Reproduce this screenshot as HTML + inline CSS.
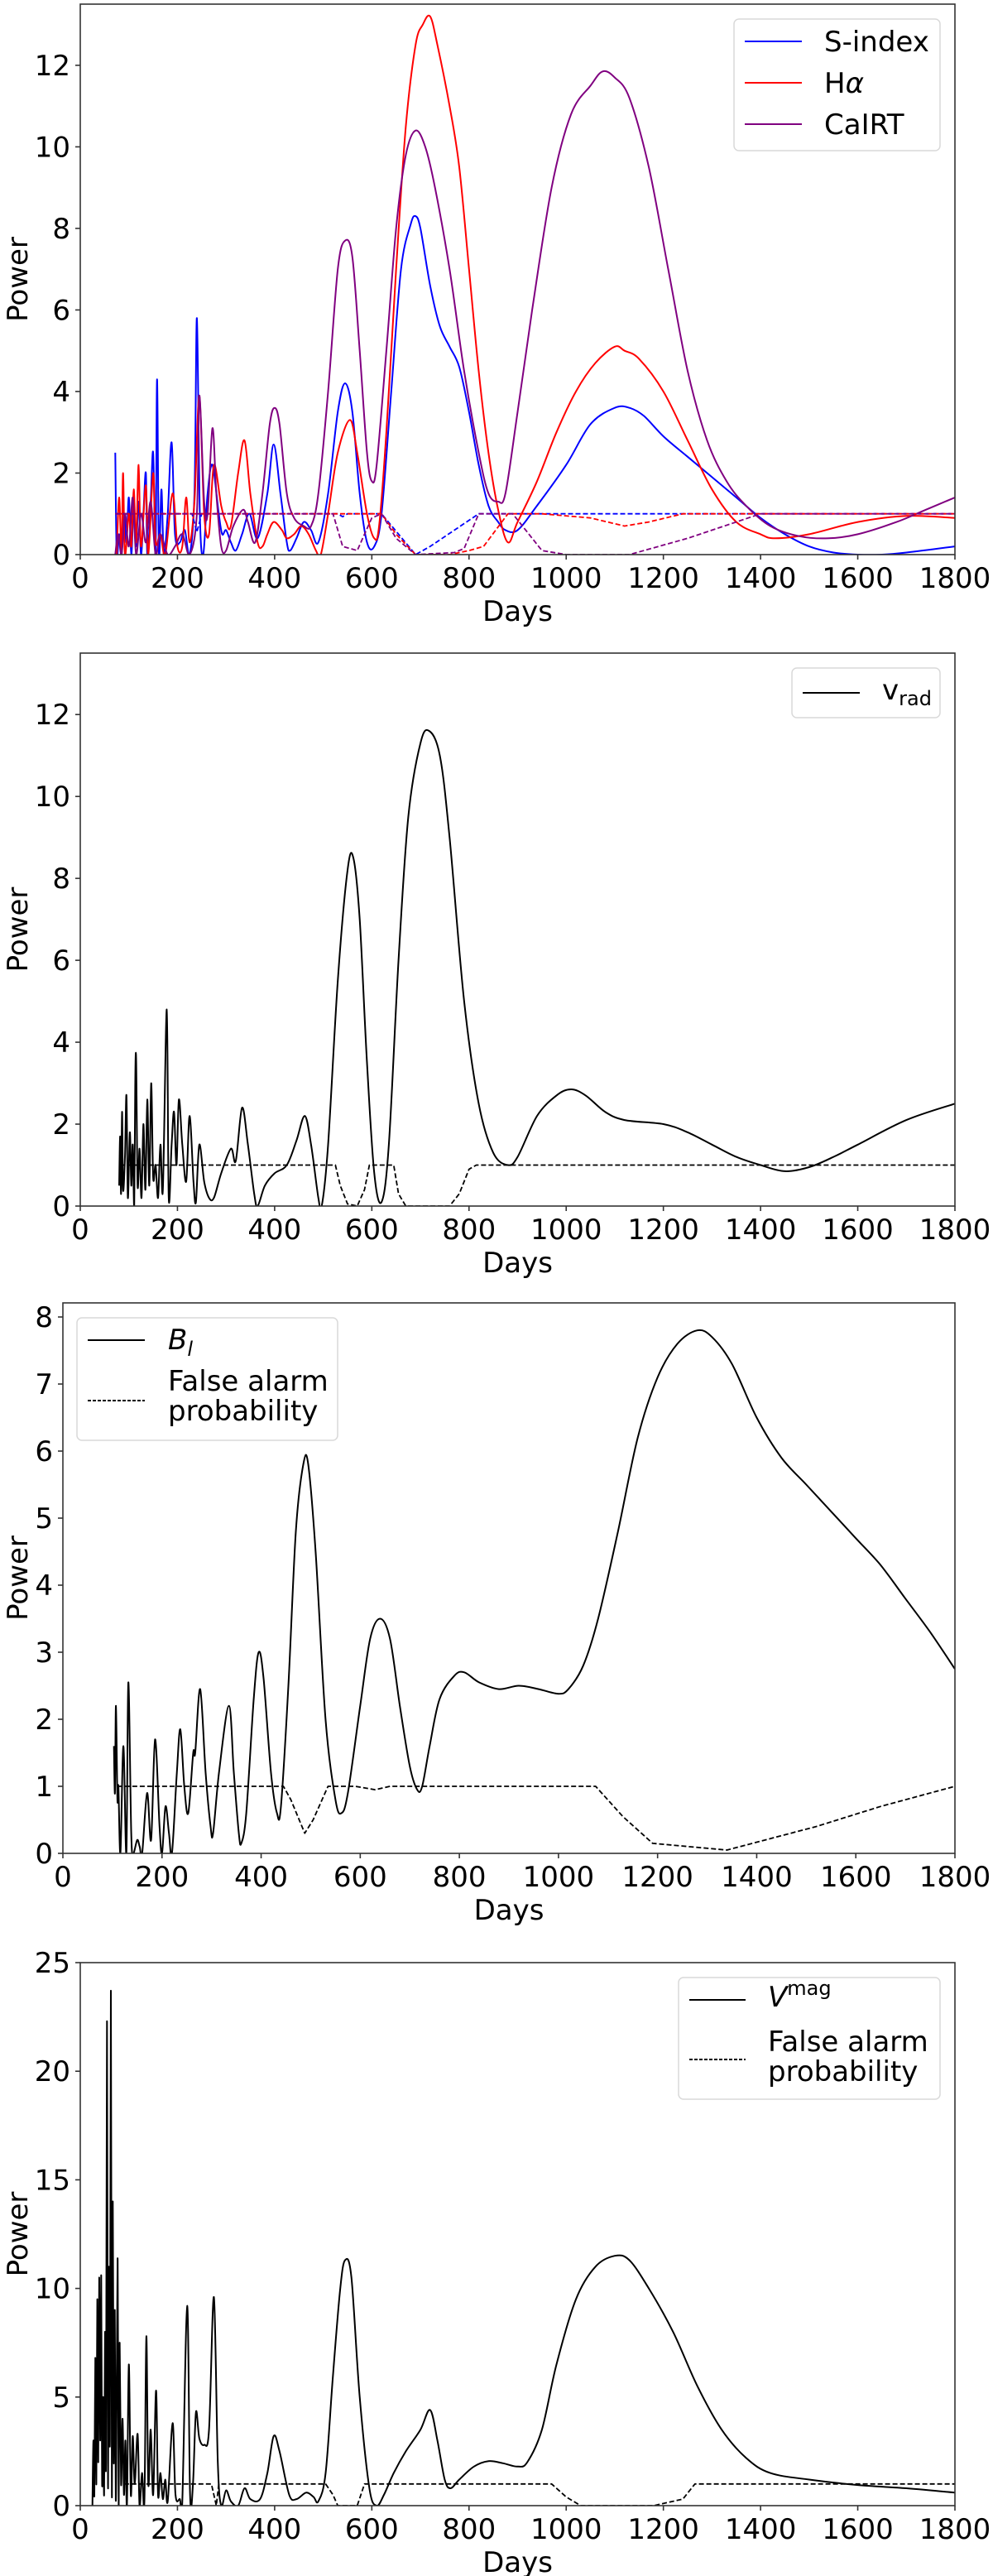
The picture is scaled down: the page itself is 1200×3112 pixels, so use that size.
<!DOCTYPE html>
<html><head><meta charset="utf-8">
<style>
html,body{margin:0;padding:0;background:#fff;}
svg{display:block;font-family:"DejaVu Sans","Liberation Sans",sans-serif;}
</style></head>
<body>
<svg id="fig" width="1200" height="3112" viewBox="0 0 1200 3112" xmlns="http://www.w3.org/2000/svg"></svg>
<script>
// ---------- Panel 1 data (activity indicators) ----------
const sindexDays = [72,75,80,85,90,95,100,105,110,115,120,125,130,135,138,145,150,155,158,162,167,172,180,188,195,205,215,225,235,240,246,253,262,272,285,292,300,310,320,333,348,365,385,398,412,425,432,445,460,475,490,510,530,545,560,575,590,605,620,640,660,680,690,700,720,740,760,780,800,820,840,860,875,900,940,1000,1050,1100,1130,1160,1200,1250,1300,1350,1400,1450,1500,1550,1600,1650,1700,1800];
const sindexPower = [2.5,0,0.5,0,1,0.3,1.4,0,1.2,0.2,1.3,0,1,2,0,1.3,2.5,0,4.3,0,1.6,0,1,2.75,0.5,0.3,0.6,0,1.5,5.8,1,0,1.5,2.2,1,0.5,0.6,0.3,0.1,0.5,1,0.4,1.5,2.7,1.5,0.3,0.1,0.4,0.8,0.6,0.3,1.5,3.5,4.2,3.5,1.5,0.3,0.2,1,4,7,8.1,8.3,8,6.6,5.6,5.1,4.6,3.5,2.2,1.2,0.8,0.6,0.6,1.2,2.2,3.2,3.6,3.6,3.4,2.9,2.4,1.9,1.4,0.9,0.5,0.2,0.05,0,0,0.05,0.2];
const sindexFapDays = [72,230,240,250,530,540,550,620,690,720,770,820,1800];
const sindexFap = [1,1,0.55,1,1,0.93,1,1,0,0.2,0.6,1,1];

const halphaDays = [75,80,85,88,92,100,105,110,115,120,125,135,140,150,155,165,175,190,200,210,218,225,235,245,255,265,275,290,300,310,325,338,350,365,375,385,398,415,425,440,455,470,485,495,510,530,555,570,590,605,615,630,650,670,690,705,720,735,760,780,800,820,840,860,880,900,940,980,1020,1060,1100,1120,1150,1200,1250,1300,1350,1400,1430,1500,1600,1700,1800];
const halphaPower = [0,1.4,0,2,0,1,0.2,1.6,0.3,2.2,0.2,1.7,0,2,0.3,0.5,0,1.5,0.2,0.2,1.4,0.3,1.3,3.9,1,0.5,2.2,1.2,0.8,0.7,2,2.8,1.5,0.3,0.2,0.5,0.8,0.6,0.4,0.5,0.7,0.5,0.1,0,1,2.5,3.3,2.5,1,0.4,0.7,3,7,10.5,12.5,13,13.2,12.5,11,9.5,7,4.5,2.5,1.1,0.3,0.8,1.8,3,4,4.7,5.1,5,4.8,4,2.8,1.6,0.8,0.5,0.4,0.5,0.8,0.95,0.9];
const halphaFapDays = [75,520,550,620,650,690,760,800,830,880,950,1050,1120,1170,1240,1800];
const halphaFap = [1,1,1,1,0.5,0,0,0.1,0.2,1,1,0.9,0.7,0.8,1,1];

const cairtDays = [72,78,85,92,100,108,115,125,135,145,155,165,180,195,210,225,240,245,255,262,272,280,290,300,315,335,345,360,375,390,400,410,425,440,460,475,490,510,530,545,560,575,590,600,610,630,650,670,690,710,730,760,790,820,840,860,875,900,930,970,1010,1050,1075,1100,1130,1170,1210,1250,1290,1330,1370,1420,1480,1540,1600,1680,1740,1800];
const cairtPower = [0,0.5,0,1,0.2,1.4,0,1,0.3,1.3,0,0.5,0,0.2,0.5,0,1,3.9,1.3,1,3.1,1.5,0.2,0.1,0.7,1.1,0.8,0.3,1.5,3.2,3.6,3.2,1.5,0.9,0.7,0.7,1.5,4,7,7.7,7.3,5,2.5,1.8,2.2,5,8,9.8,10.4,10,9,7,4.5,2.5,1.5,1.3,1.5,3.5,6,9,10.8,11.5,11.85,11.7,11.2,9.5,7,4.5,2.8,1.8,1.2,0.7,0.45,0.4,0.5,0.8,1.1,1.4];
const cairtFapDays = [72,520,540,570,600,620,650,690,770,790,820,890,950,1000,1130,1250,1350,1400,1800];
const cairtFap = [1,1,0.2,0.1,0.9,1,0.4,0,0.05,0.15,1,1,0.1,0,0,0.4,0.8,1,1];

// ---------- Panel 2 data (radial velocity) ----------
const vradDays = [80,82,84,86,88,92,95,98,102,105,108,111,113,115,118,122,126,130,134,138,142,146,150,155,160,165,170,178,182,188,193,198,203,210,218,225,233,238,245,255,265,275,290,310,320,333,345,358,365,380,400,425,445,462,475,490,497,510,530,550,562,575,590,605,620,635,655,675,700,718,740,760,790,820,850,880,900,940,980,1010,1040,1080,1120,1200,1250,1300,1350,1400,1450,1500,1550,1600,1700,1800];
const vradPower = [0.5,1.7,0.3,2.3,0.4,1.2,2.7,0.2,1.8,0.5,1.5,0,2.9,3.6,0.5,1.4,0.2,2,0.4,2.6,0.5,3,0.7,1,0.2,1.5,0.4,4.8,0.2,1.5,2.3,1,2.6,1.5,0.6,2.2,0.6,0.1,1.5,0.6,0.2,0.2,0.8,1.4,1.1,2.4,1.5,0.3,0,0.5,0.8,1.0,1.6,2.2,1.5,0.2,0,1.5,5.5,8.2,8.5,7,3.5,0.8,0.1,1.5,6,9.5,11.3,11.6,11,9,5,2.5,1.3,1.0,1.2,2.2,2.7,2.85,2.7,2.3,2.1,2,1.8,1.5,1.2,1.0,0.85,0.95,1.2,1.5,2.1,2.5];
const vradFapDays = [80,525,535,550,570,585,595,645,655,670,760,780,800,815,1800];
const vradFap = [1,1,0.5,0.05,0,0.4,1,1,0.3,0,0,0.3,0.9,1,1];

// ---------- Panel 3 data (longitudinal field) ----------
const blDays = [103,105,107,110,112,116,122,128,132,138,142,150,155,160,170,178,186,195,200,207,214,220,230,237,245,253,263,267,277,288,298,303,315,335,345,355,360,370,385,395,405,420,432,440,455,470,485,495,510,530,550,562,575,600,620,640,660,680,700,715,725,740,760,790,810,840,880,920,960,1000,1020,1050,1080,1120,1160,1200,1240,1280,1310,1350,1400,1450,1500,1550,1600,1650,1700,1750,1800];
const blPower = [1.6,0.9,2.2,0.8,1,0,1.6,0,2.55,0.3,0,0.2,0.1,0,0.9,0.2,1.7,0.4,0,0.7,0.3,0,1.2,1.85,1,0.6,1.5,1.5,2.45,1.2,0.4,0.3,1.2,2.2,1.2,0.3,0.15,0.6,2.3,3,2.6,1.2,0.6,0.7,2.5,4.8,5.8,5.8,4.5,2,0.8,0.6,0.9,2.2,3.2,3.5,3.2,2.2,1.3,0.95,1,1.6,2.3,2.65,2.7,2.55,2.45,2.5,2.45,2.38,2.45,2.8,3.5,4.8,6.2,7.1,7.6,7.8,7.7,7.3,6.5,5.9,5.5,5.1,4.7,4.3,3.8,3.3,2.75];
const blFapDays = [110,445,460,488,505,535,590,630,660,1075,1130,1190,1340,1520,1650,1800];
const blFap = [1,1,0.8,0.3,0.5,1,1,0.95,1,1,0.55,0.15,0.05,0.4,0.7,1];

// ---------- Panel 4 data (V magnitude) ----------
const vmagDays = [25,27,29,31,33,35,37,39,41,43,45,47,49,51,53,55,57,59,61,63,65,67,69,71,73,75,77,79,81,84,87,90,93,96,100,104,108,112,118,122,127,132,136,140,145,150,156,160,165,170,175,180,190,196,205,210,220,226,232,238,245,255,265,275,283,290,300,310,325,338,350,370,385,398,410,430,445,465,480,490,505,520,535,545,558,575,595,610,625,645,670,700,720,735,750,762,780,810,840,870,900,920,950,980,1020,1060,1100,1130,1170,1220,1270,1320,1370,1420,1500,1600,1700,1800];
const vmagPower = [0,3,0.5,6.8,1,9.5,2,10.5,3,10.6,1,5,0.5,8,2,22.3,1,11,3,23.7,0.5,14,2,9,0.3,5,11.3,0,7.5,1,4,0.5,3,0,6.5,0.5,3.2,1,3.3,0,1.5,0.2,7.8,1,3.5,0.5,5.3,0.5,1.5,0.3,1.2,0.2,3.8,0.5,0.3,0.2,9.2,0.5,1,4.3,3.1,2.8,3.5,9.6,2,0,0.7,0.2,0,0.8,0.3,0.3,1.5,3.2,2.5,0.5,0.3,0.6,0.4,0.2,1.5,6,10,11.3,10.5,5,0.8,0,0.5,1.5,2.5,3.5,4.4,3,1.2,0.8,1.2,1.8,2.05,1.95,1.8,2,3.5,6.5,9.5,11,11.5,11.3,10,8,5.5,3.5,2.2,1.5,1.2,0.95,0.8,0.6];
const vmagFapDays = [90,270,280,285,505,520,530,570,585,970,1000,1030,1180,1240,1265,1800];
const vmagFap = [1,1,0,1,1,0.5,0,0,1,1,0.4,0,0,0.3,1,1];

// ---------- tick labels ----------
const xTicks = [0,200,400,600,800,1000,1200,1400,1600,1800];
const yTicksP1 = [0,2,4,6,8,10,12];
const yTicksP2 = [0,2,4,6,8,10,12];
const yTicksP3 = [0,1,2,3,4,5,6,7,8];
const yTicksP4 = [0,5,10,15,20,25];

const NS = "http://www.w3.org/2000/svg";
const svg = document.getElementById('fig');
function mk(tag, attrs, parent){
  const e = document.createElementNS(NS, tag);
  for (const k in attrs) e.setAttribute(k, attrs[k]);
  (parent||svg).appendChild(e);
  return e;
}
function smoothPath(P){
  let d = 'M' + P[0][0].toFixed(1) + ',' + P[0][1].toFixed(1);
  for (let i = 0; i < P.length - 1; i++){
    const p0 = P[i-1] || P[i], p1 = P[i], p2 = P[i+1], p3 = P[i+2] || P[i+1];
    const c1x = p1[0] + (p2[0]-p0[0])/6, c1y = p1[1] + (p2[1]-p0[1])/6;
    const c2x = p2[0] - (p3[0]-p1[0])/6, c2y = p2[1] - (p3[1]-p1[1])/6;
    d += ' C' + c1x.toFixed(1)+','+c1y.toFixed(1)+' '+c2x.toFixed(1)+','+c2y.toFixed(1)+' '+p2[0].toFixed(1)+','+p2[1].toFixed(1);
  }
  return d;
}

function panel(cfg){
  const g = mk('g', {});
  
  
  const xs = d => cfg.L + (d - 0) / 1800 * (cfg.R - cfg.L);
  const ys = v => cfg.B - v / cfg.ymax * (cfg.B - cfg.T);
  const cid = 'clip-' + cfg.name;
  const cp = mk('clipPath', {id: cid}, g);
  mk('rect', {x: cfg.L, y: cfg.T, width: cfg.R - cfg.L, height: cfg.B - cfg.T}, cp);
  const plot = mk('g', {'clip-path': 'url(#' + cid + ')'}, g);
  
  
  cfg.series.forEach(s => {
    const P = s.x.map((d, i) => [xs(d), ys(s.y[i])]);
    const pl = mk('path', {d: s.dash ? ('M' + P.map(p => p[0].toFixed(1)+','+p[1].toFixed(1)).join(' L')) : smoothPath(P), fill: 'none', stroke: s.color, 'stroke-width': s.dash ? 1.8 : 2, 'stroke-linejoin': 'round'}, plot);
    if (s.dash) pl.setAttribute('stroke-dasharray', '6,3');
    
    
  });
  const fr = mk('rect', {x: cfg.L, y: cfg.T, width: cfg.R - cfg.L, height: cfg.B - cfg.T, fill: 'none', stroke: '#333', 'stroke-width': 1.6}, g);
  
  
  xTicks.forEach(t => {
    const x = xs(t);
    mk('line', {x1: x, x2: x, y1: cfg.B, y2: cfg.B + 6, stroke: '#333', 'stroke-width': 1.6}, g);
    const tx = mk('text', {x: x, y: cfg.B + 40, 'font-size': 34, 'text-anchor': 'middle', fill: '#000'}, g);
    tx.textContent = t;
    
    
  });
  cfg.yticks.forEach(t => {
    const y = ys(t);
    mk('line', {x1: cfg.L - 6, x2: cfg.L, y1: y, y2: y, stroke: '#333', 'stroke-width': 1.6}, g);
    const tx = mk('text', {x: cfg.L - 12, y: y + 12, 'font-size': 34, 'text-anchor': 'end', fill: '#000'}, g);
    tx.textContent = t;
    
    
  });
  const xl = mk('text', {x: (cfg.L + cfg.R) / 2, y: cfg.B + 80, 'font-size': 34, 'text-anchor': 'middle', fill: '#000'}, g);
  xl.textContent = 'Days';
  
  
  const cy = (cfg.T + cfg.B) / 2;
  const yl = mk('text', {x: 33, y: cy, 'font-size': 34, 'text-anchor': 'middle', fill: '#000', transform: 'rotate(-90 33 ' + cy + ')'}, g);
  yl.textContent = 'Power';
  
  
  return g;
}

const BLUE = '#0000ff', RED = '#ff0000', PURPLE = '#800080', BLACK = '#000';
panel({name: 'panel-activity', L: 97, R: 1154, T: 5, B: 670, ymax: 13.5, yticks: yTicksP1, series: [
  {name: 'sindex-line', x: sindexDays, y: sindexPower, color: BLUE},
  {name: 'halpha-line', x: halphaDays, y: halphaPower, color: RED},
  {name: 'cairt-line', x: cairtDays, y: cairtPower, color: PURPLE},
  {name: 'sindex-fap', x: sindexFapDays, y: sindexFap, color: BLUE, dash: true},
  {name: 'halpha-fap', x: halphaFapDays, y: halphaFap, color: RED, dash: true},
  {name: 'cairt-fap', x: cairtFapDays, y: cairtFap, color: PURPLE, dash: true}
]});
panel({name: 'panel-vrad', L: 97, R: 1154, T: 789, B: 1457, ymax: 13.5, yticks: yTicksP2, series: [
  {name: 'vrad-line', x: vradDays, y: vradPower, color: BLACK},
  {name: 'vrad-fap', x: vradFapDays, y: vradFap, color: BLACK, dash: true}
]});
panel({name: 'panel-bl', L: 76, R: 1154, T: 1574, B: 2239, ymax: 8.21, yticks: yTicksP3, series: [
  {name: 'bl-line', x: blDays, y: blPower, color: BLACK},
  {name: 'bl-fap', x: blFapDays, y: blFap, color: BLACK, dash: true}
]});
panel({name: 'panel-vmag', L: 97, R: 1154, T: 2371, B: 3027, ymax: 25, yticks: yTicksP4, series: [
  {name: 'vmag-line', x: vmagDays, y: vmagPower, color: BLACK},
  {name: 'vmag-fap', x: vmagFapDays, y: vmagFap, color: BLACK, dash: true}
]});

function legendBox(x, y, w, h){
  const r = mk('rect', {x: x, y: y, width: w, height: h, rx: 6, fill: '#fff', 'fill-opacity': 0.85, stroke: '#d9d9d9', 'stroke-width': 1.5});
  
  
}
function legLine(x1, x2, y, color, dash){
  const l = mk('line', {x1: x1, x2: x2, y1: y, y2: y, stroke: color, 'stroke-width': 2});
  if (dash) l.setAttribute('stroke-dasharray', '4,2');
  
  
}
legendBox(887, 23, 249, 159);
legLine(900, 969, 50, BLUE); legLine(900, 969, 100, RED); legLine(900, 969, 150, PURPLE);
svg.insertAdjacentHTML('beforeend',
 '<text x="996" y="62" font-size="34">S-index</text>' +
 '<text x="996" y="112" font-size="34">H<tspan font-style="italic">α</tspan></text>' +
 '<text x="996" y="162" font-size="34">CaIRT</text>');

legendBox(957, 807, 179, 60);
legLine(970, 1039, 837, BLACK);
svg.insertAdjacentHTML('beforeend',
 '<text x="1066" y="845" font-size="34">v<tspan font-size="24" dy="7">rad</tspan></text>');

legendBox(93, 1592, 315, 148);
legLine(106, 175, 1619, BLACK); legLine(106, 175, 1692, BLACK, true);
svg.insertAdjacentHTML('beforeend',
 '<text x="203" y="1630" font-size="34" font-style="italic">B<tspan font-size="24" dy="8">l</tspan></text>' +
 '<text x="203" y="1680" font-size="34">False alarm</text>' +
 '<text x="203" y="1716" font-size="34">probability</text>');

legendBox(820, 2389, 316, 147);
legLine(833, 901, 2416, BLACK); legLine(833, 901, 2488, BLACK, true);
svg.insertAdjacentHTML('beforeend',
 '<text x="928" y="2424" font-size="34"><tspan font-style="italic">V</tspan><tspan font-size="24" dy="-14">mag</tspan></text>' +
 '<text x="928" y="2478" font-size="34">False alarm</text>' +
 '<text x="928" y="2514" font-size="34">probability</text>');
</script>
</body></html>
